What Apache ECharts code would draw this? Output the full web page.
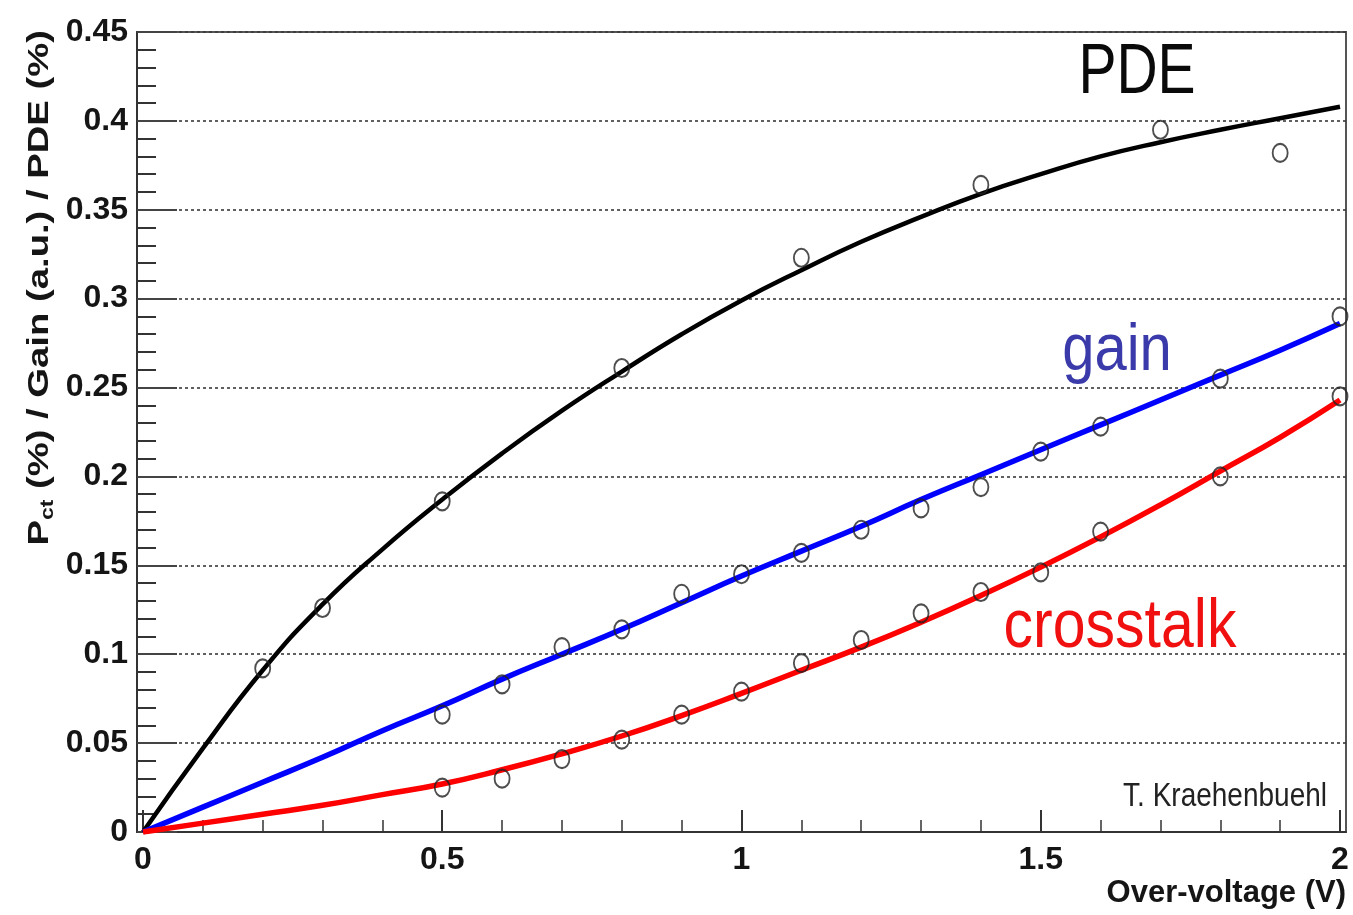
<!DOCTYPE html>
<html>
<head>
<meta charset="utf-8">
<script src="https://cdn.jsdelivr.net/npm/echarts@6/dist/echarts.min.js"></script>
<style>
html,body{margin:0;padding:0;background:#fff;}
#chart{width:1353px;height:915px;}
</style>
</head>
<body>
<div id="chart"></div>
<script>
// ---- data ----
const curveX   = [0,0.1,0.2,0.3,0.4,0.5,0.6,0.7,0.8,0.9,1.0,1.1,1.2,1.3,1.4,1.5,1.6,1.7,1.8,1.9,2.0];
const pdeFit   = [0,0.047,0.091,0.128,0.159,0.187,0.213,0.237,0.259,0.280,0.299,0.316,0.332,0.346,0.359,0.370,0.380,0.388,0.395,0.4015,0.408];
const gainFit  = [0,0.014,0.028,0.042,0.057,0.071,0.086,0.100,0.114,0.129,0.144,0.158,0.172,0.187,0.201,0.215,0.229,0.243,0.257,0.271,0.286];
const ctFit    = [0,0.005,0.010,0.015,0.021,0.027,0.035,0.044,0.054,0.0655,0.078,0.091,0.104,0.118,0.133,0.149,0.166,0.184,0.203,0.222,0.243];

const pdeX     = [0.2,0.3,0.5,0.8,1.1,1.4,1.7,1.9];
const pdePts   = [0.092,0.126,0.186,0.261,0.323,0.364,0.395,0.382];
const measX    = [0.5,0.6,0.7,0.8,0.9,1.0,1.1,1.2,1.3,1.4,1.5,1.6,1.8,2.0];
const gainPts  = [0.066,0.083,0.104,0.114,0.134,0.145,0.157,0.170,0.182,0.194,0.214,0.228,0.255,0.290];
const ctPts    = [0.025,0.030,0.041,0.052,0.066,0.079,0.095,0.108,0.123,0.135,0.146,0.169,0.200,0.245];

const xMajorTicks = [0,0.5,1,1.5,2];
const xMinorTicks = [0,0.1,0.2,0.3,0.4,0.5,0.6,0.7,0.8,0.9,1.0,1.1,1.2,1.3,1.4,1.5,1.6,1.7,1.8,1.9,2.0];
const xTickLabels = ['0','0.5','1','1.5','2'];

const xTitle = 'Over-voltage (V)';
const credit = 'T. Kraehenbuehl';

// ---- build ----
const pair = (xs, ys) => xs.map((x, i) => [x, ys[i]]);
const FONT = "'Liberation Sans', Arial, Helvetica, sans-serif";

const chart = echarts.init(document.getElementById('chart'), null, {renderer: 'canvas'});

const lineSeries = (name, ys, color, w) => ({
  name, type: 'line', xAxisIndex: 0, yAxisIndex: 0,
  data: pair(curveX, ys), smooth: 0.5, showSymbol: false, symbol: 'none',
  lineStyle: {color, width: w}, z: 3, silent: true
});
const ptSeries = (name, xs, ys) => ({
  name, type: 'scatter', xAxisIndex: 0, yAxisIndex: 0,
  data: pair(xs, ys), symbol: 'circle', symbolSize: [15, 18],
  itemStyle: {color: 'rgba(0,0,0,0)', borderColor: '#222', borderWidth: 2},
  z: 4, silent: true
});

const option = {
  animation: false,
  backgroundColor: '#ffffff',
  grid: {left: 137, right: 7, top: 32, bottom: 83, show: true, borderColor: '#555', borderWidth: 2, backgroundColor: 'transparent'},
  xAxis: [
    {
      type: 'value', min: -0.01, max: 2.01,
      axisLine: {show: true, onZero: false, lineStyle: {color: '#333', width: 2}},
      axisTick: {show: true, inside: true, length: 22, customValues: xMajorTicks, lineStyle: {color: '#333', width: 2}},
      axisLabel: {show: true, customValues: xMajorTicks, formatter: v => xTickLabels[xMajorTicks.indexOf(Math.round(v*10)/10)] ?? String(v),
        fontFamily: FONT, fontWeight: 'bold', fontSize: 32, color: '#151515', margin: 12},
      splitLine: {show: false}
    },
    {
      type: 'value', min: -0.01, max: 2.01, position: 'bottom',
      axisLine: {show: false},
      axisTick: {show: true, inside: true, length: 12, customValues: xMinorTicks, lineStyle: {color: '#333', width: 1.5}},
      axisLabel: {show: false},
      splitLine: {show: false}
    }
  ],
  yAxis: [{
    type: 'value', min: 0, max: 0.45, interval: 0.05,
    axisLine: {show: true, onZero: false, lineStyle: {color: '#333', width: 2}},
    axisTick: {show: true, inside: true, length: 40, lineStyle: {color: '#444', width: 2}},
    minorTick: {show: true, splitNumber: 5, length: 19, lineStyle: {color: '#333', width: 2}},
    axisLabel: {fontFamily: FONT, fontWeight: 'bold', fontSize: 32, color: '#151515', margin: 9},
    splitLine: {show: true, lineStyle: {color: '#3a3a3a', width: 1.6, type: [3, 3]}}
  }],
  series: [
    lineSeries('PDE fit', pdeFit, '#000000', 4.5),
    lineSeries('gain fit', gainFit, '#0000ff', 5.5),
    lineSeries('crosstalk fit', ctFit, '#ff0000', 5.5),
    ptSeries('PDE', pdeX, pdePts),
    ptSeries('gain', measX, gainPts),
    ptSeries('crosstalk', measX, ctPts)
  ],
  graphic: [
    {type: 'text', x: 1137, y: 74, scaleY: 1.22, z: 10,
      style: {text: 'PDE', font: "57px " + FONT, fill: '#0a0a0a', align: 'center', verticalAlign: 'middle'}},
    {type: 'text', x: 1117, y: 352, scaleY: 1.15, z: 10,
      style: {text: 'gain', font: "58px " + FONT, fill: '#3a3aaa', align: 'center', verticalAlign: 'middle'}},
    {type: 'text', x: 1120, y: 628, scaleY: 1.15, z: 10,
      style: {text: 'crosstalk', font: "59px " + FONT, fill: '#f01010', align: 'center', verticalAlign: 'middle'}},
    {type: 'text', x: 1327, y: 797, scaleY: 1.2, z: 10,
      style: {text: credit, font: "28px " + FONT, fill: '#222', align: 'right', verticalAlign: 'middle'}},
    {type: 'text', x: 1346, y: 893, z: 10,
      style: {text: xTitle, font: "bold 31px " + FONT, fill: '#151515', align: 'right', verticalAlign: 'middle'}},
    {type: 'text', x: 40, y: 30, rotation: Math.PI / 2, scaleX: 1.275, z: 10,
      style: {
        text: '{b|P}{s|ct}{b| (%) / Gain (a.u.) / PDE (%)}',
        align: 'right', verticalAlign: 'middle', fill: '#151515',
        rich: {
          b: {font: "bold 30px " + FONT, fill: '#151515', lineHeight: 34, verticalAlign: 'middle'},
          s: {font: "bold 18px " + FONT, fill: '#151515', lineHeight: 18, verticalAlign: 'bottom', padding: [14, 0, 0, 0]}
        }
      }}
  ]
};
chart.setOption(option);
</script>
</body>
</html>
